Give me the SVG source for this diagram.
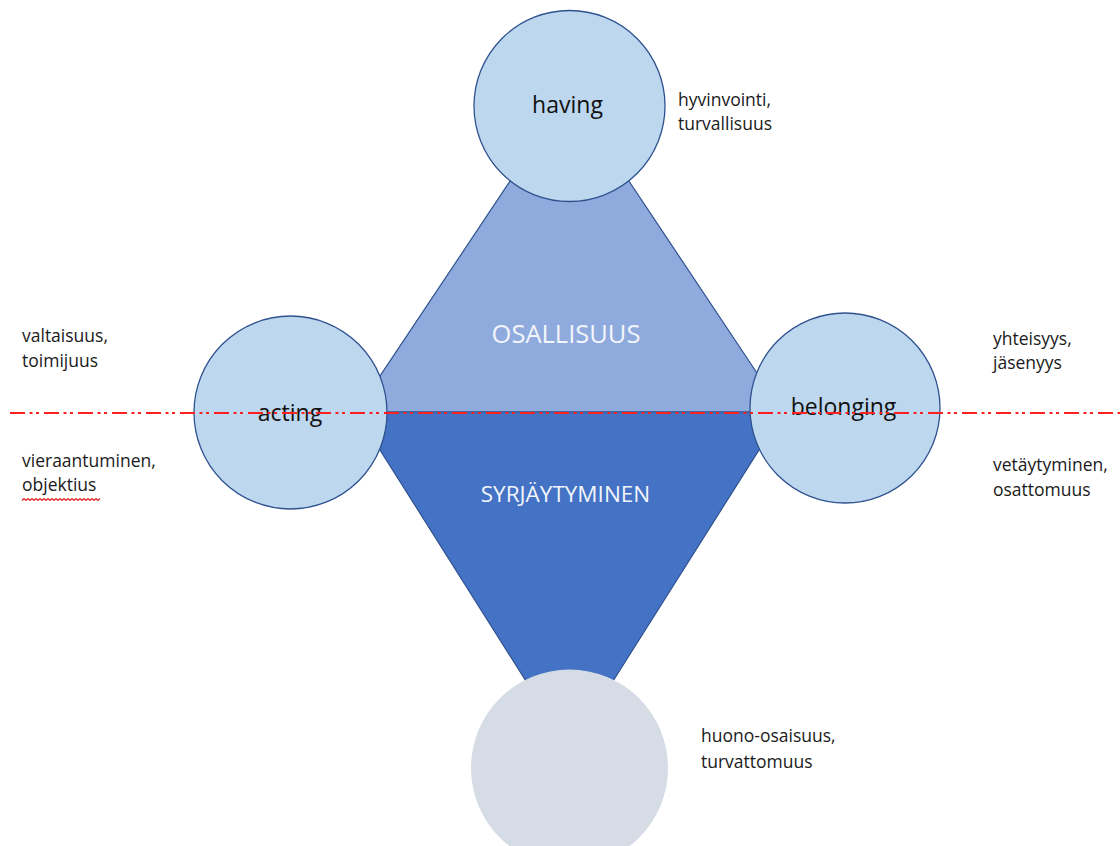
<svg xmlns="http://www.w3.org/2000/svg" width="1120" height="846" viewBox="0 0 1120 846">
  <style>
    .circ { fill: #BDD7EE; stroke: #2F528F; stroke-width: 1.3; }
    .node-label { font-family: "Open Sans", "Liberation Sans", sans-serif; font-size: 23px; fill: #111111; text-anchor: middle; }
    .side { font-family: "Open Sans", "Liberation Sans", sans-serif; font-size: 17.5px; fill: #1a1a1a; }
    .title { font-family: "Open Sans", "Liberation Sans", sans-serif; fill: #F2F5FB; text-anchor: middle; }
  </style>
  <rect x="0" y="0" width="1120" height="846" fill="#ffffff"/>

  <g id="diamond">
    <polygon points="569.5,92 356,412 783,412" fill="#8FAADC" stroke="#2F528F" stroke-width="1.2"/>
    <polygon points="356,412 783,412 569.5,750" fill="#4472C4" stroke="#2F528F" stroke-width="1.2"/>
    <text class="title" x="566" y="343" font-size="25.5">OSALLISUUS</text>
    <text class="title" x="565.5" y="502" font-size="22.5">SYRJÄYTYMINEN</text>
  </g>

  <g id="having">
    <circle class="circ" cx="569.5" cy="106" r="95.5"/>
    <text class="node-label" x="567.5" y="113">having</text>
  </g>
  <g id="acting">
    <circle class="circ" cx="290.5" cy="412.5" r="96.5"/>
    <text class="node-label" x="290" y="421">acting</text>
  </g>
  <g id="belonging">
    <circle class="circ" cx="845" cy="408" r="95"/>
    <text class="node-label" x="843.5" y="415">belonging</text>
  </g>
  <g id="bottom">
    <circle cx="569.5" cy="768" r="98.5" fill="#D6DCE5"/>
  </g>

  <g id="labels">
    <text class="side" x="678" y="106">hyvinvointi,</text>
    <text class="side" x="678" y="130">turvallisuus</text>
    <text class="side" x="22" y="342">valtaisuus,</text>
    <text class="side" x="22" y="367">toimijuus</text>
    <text class="side" x="22" y="467">vieraantuminen,</text>
    <text class="side" x="22" y="491">objektius</text>
    <text class="side" x="993" y="345">yhteisyys,</text>
    <text class="side" x="993" y="369">jäsenyys</text>
    <text class="side" x="993" y="471">vetäytyminen,</text>
    <text class="side" x="993" y="496">osattomuus</text>
    <text class="side" x="701" y="742">huono-osaisuus,</text>
    <text class="side" x="701" y="768">turvattomuus</text>
    <path d="M22,500.5 l2,-2 l2,2 l2,-2 l2,2 l2,-2 l2,2 l2,-2 l2,2 l2,-2 l2,2 l2,-2 l2,2 l2,-2 l2,2 l2,-2 l2,2 l2,-2 l2,2 l2,-2 l2,2 l2,-2 l2,2 l2,-2 l2,2 l2,-2 l2,2 l2,-2 l2,2 l2,-2 l2,2 l2,-2 l2,2 l2,-2 l2,2 l2,-2 l2,2 l2,-2 l2,2 l2,-2" fill="none" stroke="#E02020" stroke-width="1.2"/>
  </g>

  <g id="connectors">
    <line x1="10" y1="413" x2="1120" y2="413" stroke="#FF2020" stroke-width="1.8" stroke-dasharray="15 4.5 3 3.5 3 5"/>
  </g>
</svg>
